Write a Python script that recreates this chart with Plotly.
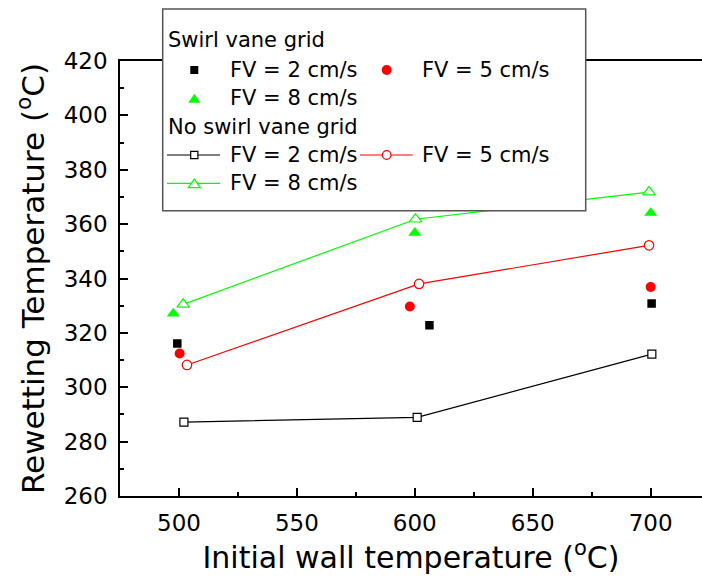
import plotly.graph_objects as go

# Rewetting temperature vs initial wall temperature
# Swirl vane grid (filled markers only)
swirl_fv2_x = [499.3, 606.2, 700.4]
swirl_fv2_y = [316.1, 322.8, 330.8]
swirl_fv5_x = [500.3, 597.9, 700.0]
swirl_fv5_y = [312.4, 329.7, 336.9]
swirl_fv8_x = [497.6, 600.0, 700.0]
swirl_fv8_y = [327.1, 356.8, 364.1]

# No swirl vane grid (open markers joined by lines)
plain_fv2_x = [502.1, 601.0, 700.5]
plain_fv2_y = [287.2, 288.9, 312.2]
plain_fv5_x = [503.4, 601.8, 699.3]
plain_fv5_y = [308.2, 338.0, 352.2]
plain_fv8_x = [501.8, 600.3, 699.3]
plain_fv8_y = [330.5, 361.8, 371.8]

legend_headers = ["Swirl vane grid", "No swirl vane grid"]
legend_labels = ["FV = 2 cm/s", "FV = 5 cm/s", "FV = 8 cm/s"]

BLACK = "#000000"
RED = "#ff0000"
GREEN = "#00ff00"
FONT = "DejaVu Sans"

W, H = 702, 588
ML, MR, MT, MB = 120, 0, 61, 92
PW, PH = W - ML - MR, H - MT - MB

fig = go.Figure()

def open_line(x, y, color, symbol, size):
    fig.add_trace(go.Scatter(
        x=x, y=y, mode="lines+markers",
        line=dict(color=color, width=1.2),
        marker=dict(symbol=symbol, size=size, color="white",
                    line=dict(color=color, width=1.2)),
        showlegend=False, cliponaxis=False))

def filled(x, y, color, symbol, size):
    fig.add_trace(go.Scatter(
        x=x, y=y, mode="markers",
        marker=dict(symbol=symbol, size=size, color=color, line=dict(width=0)),
        showlegend=False, cliponaxis=False))

open_line(plain_fv2_x, plain_fv2_y, BLACK, "square", 8)
open_line(plain_fv5_x, plain_fv5_y, RED, "circle", 9.5)
open_line(plain_fv8_x, plain_fv8_y, GREEN, "triangle-up", 11)
filled(swirl_fv2_x, swirl_fv2_y, BLACK, "square", 8.5)
filled(swirl_fv5_x, swirl_fv5_y, RED, "circle", 10)
filled(swirl_fv8_x, swirl_fv8_y, GREEN, "triangle-up", 11.5)

# ---- hand-built legend box (pixel positions converted to paper units) ----
def px(x):
    return (x - ML) / PW

def py(y):
    return (H - MB - y) / PH

shapes = []
annotations = []

shapes.append(dict(type="rect", xref="paper", yref="paper", layer="above",
                   x0=px(162.7), x1=px(585.7), y0=py(210.7), y1=py(9),
                   fillcolor="white", line=dict(color="#555555", width=1.5)))

def sq(cx, cy, half, fill, edge):
    shapes.append(dict(type="rect", xref="paper", yref="paper", layer="above",
                       x0=px(cx - half), x1=px(cx + half),
                       y0=py(cy + half), y1=py(cy - half),
                       fillcolor=fill, line=dict(color=edge, width=1.2 if fill == "white" else 0)))

def circ(cx, cy, r, fill, edge):
    shapes.append(dict(type="circle", xref="paper", yref="paper", layer="above",
                       x0=px(cx - r), x1=px(cx + r),
                       y0=py(cy + r), y1=py(cy - r),
                       fillcolor=fill, line=dict(color=edge, width=1.2 if fill == "white" else 0)))

def tri(cx, cy, w, h, fill, edge):
    pts = [(cx - w / 2, cy + h / 2), (cx + w / 2, cy + h / 2), (cx, cy - h / 2)]
    path = "M " + " L ".join(f"{px(a):.5f},{py(b):.5f}" for a, b in pts) + " Z"
    shapes.append(dict(type="path", xref="paper", yref="paper", layer="above",
                       path=path, fillcolor=fill,
                       line=dict(color=edge, width=1.2 if fill == "white" else 0)))

def seg(x0, x1, y, color):
    shapes.append(dict(type="line", xref="paper", yref="paper", layer="above",
                       x0=px(x0), x1=px(x1), y0=py(y), y1=py(y),
                       line=dict(color=color, width=1.2)))

def text(x, y, s):
    annotations.append(dict(x=px(x), y=py(y), xref="paper", yref="paper",
                            text=s, showarrow=False, xanchor="left", yanchor="middle",
                            font=dict(family=FONT, size=21, color="black")))

rows = [40, 70, 98.3, 126.7, 155, 183.3]
c1_mark, c2_mark = 194.3, 386.7
c1_text, c2_text = 227.7, 420.0

text(165.5, rows[0], legend_headers[0])
sq(c1_mark, rows[1], 4, BLACK, BLACK)
text(c1_text, rows[1], legend_labels[0])
circ(c2_mark, rows[1], 5, RED, RED)
text(c2_text, rows[1], legend_labels[1])
tri(c1_mark, rows[2], 12, 9, GREEN, GREEN)
text(c1_text, rows[2], legend_labels[2])

text(165.5, rows[3], legend_headers[1])
seg(167, 220, rows[4], BLACK)
sq(c1_mark, rows[4], 3.6, "white", BLACK)
text(c1_text, rows[4], legend_labels[0])
seg(360, 412.7, rows[4], RED)
circ(c2_mark, rows[4], 4.3, "white", RED)
text(c2_text, rows[4], legend_labels[1])
seg(167, 220, rows[5], GREEN)
tri(c1_mark, rows[5], 12, 8.5, "white", GREEN)
text(c1_text, rows[5], legend_labels[2])

axis_common = dict(
    showline=True, linecolor="black", linewidth=1.5,
    ticks="inside", ticklen=8, tickwidth=1.5, tickcolor="black",
    showgrid=False, zeroline=False,
    tickfont=dict(family=FONT, size=23, color="black"),
)

fig.update_layout(
    width=W, height=H,
    margin=dict(l=ML, r=MR, t=MT, b=MB),
    paper_bgcolor="white", plot_bgcolor="white",
    shapes=shapes, annotations=annotations,
    xaxis=dict(
        **axis_common,
        range=[475, 475 + PW / 2.3585],
        tick0=500, dtick=50, mirror=True,
        minor=dict(ticks="inside", ticklen=4, tickwidth=1.5, tickcolor="black", dtick=25),
        ticklabelstandoff=6,
        title=dict(text="Initial wall temperature (<sup>o</sup>C)",
                   font=dict(family=FONT, size=30, color="black"), standoff=10),
    ),
    yaxis=dict(
        **axis_common,
        range=[260, 420], tick0=260, dtick=20,
        minor=dict(ticks="inside", ticklen=4, tickwidth=1.5, tickcolor="black", dtick=10),
        ticklabelstandoff=6,
        title=dict(text="Rewetting Temperature (<sup>o</sup>C)",
                   font=dict(family=FONT, size=31, color="black"), standoff=10),
    ),
)

fig.write_html("out.html")
